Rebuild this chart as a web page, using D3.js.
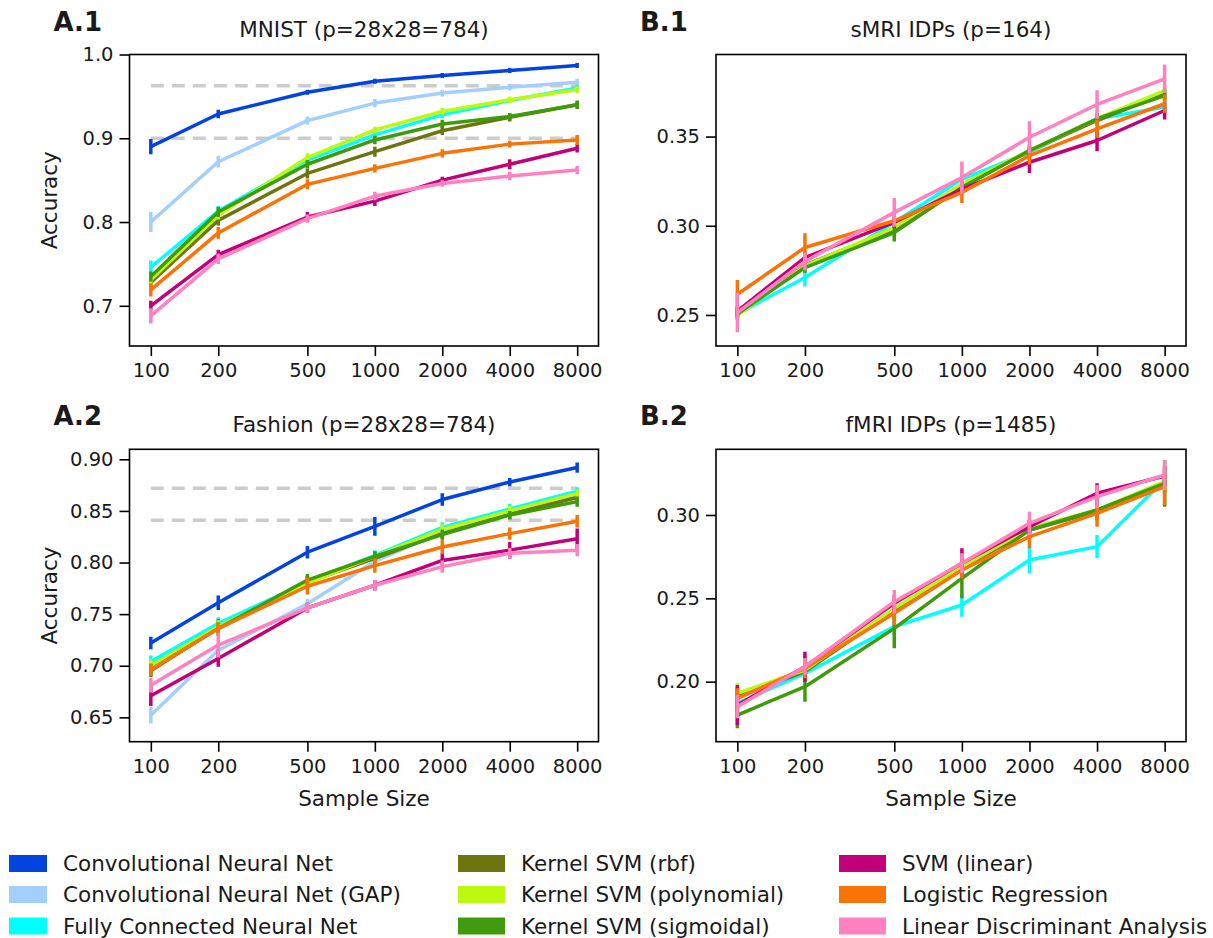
<!DOCTYPE html>
<html><head><meta charset="utf-8">
<script src="https://cdn.jsdelivr.net/npm/d3@7"></script>
<style>
html,body{margin:0;padding:0;background:#fff;}
text{font-family:"DejaVu Sans",sans-serif;fill:#1a1a1a;}
</style></head>
<body><svg id="chart" width="1213" height="938"></svg>
<script>
// ---------- data ----------
const sampleSizes = [100, 200, 500, 1000, 2000, 4000, 8000];
const xTickLabels = ["100", "200", "500", "1000", "2000", "4000", "8000"];
const methods = ["Convolutional Neural Net", "Convolutional Neural Net (GAP)", "Fully Connected Neural Net",
  "Kernel SVM (rbf)", "Kernel SVM (polynomial)", "Kernel SVM (sigmoidal)",
  "SVM (linear)", "Logistic Regression", "Linear Discriminant Analysis"];
const methodColors = ["#0343df", "#a2cffe", "#00ffff", "#6e750e", "#bbf90f", "#3f9b0b", "#c20078", "#f97306", "#ff81c0"];

// MNIST (rows in method order)
const mnistMeans = [
  [0.890, 0.929, 0.955, 0.968, 0.975, 0.981, 0.987],
  [0.800, 0.872, 0.921, 0.942, 0.954, 0.961, 0.967],
  [0.746, 0.813, 0.874, 0.904, 0.928, 0.945, 0.960],
  [0.728, 0.802, 0.858, 0.884, 0.909, 0.925, 0.940],
  [0.731, 0.808, 0.877, 0.910, 0.932, 0.946, 0.958],
  [0.735, 0.812, 0.869, 0.898, 0.917, 0.926, 0.940],
  [0.700, 0.761, 0.806, 0.825, 0.850, 0.869, 0.888],
  [0.719, 0.787, 0.845, 0.864, 0.882, 0.893, 0.898],
  [0.688, 0.756, 0.804, 0.831, 0.846, 0.855, 0.862]];
const mnistErr = [
  [0.009, 0.005, 0.003, 0.003, 0.003, 0.003, 0.003],
  [0.012, 0.007, 0.005, 0.005, 0.004, 0.004, 0.004],
  [0.008, 0.006, 0.005, 0.004, 0.004, 0.003, 0.004],
  [0.006, 0.006, 0.006, 0.006, 0.005, 0.005, 0.005],
  [0.006, 0.005, 0.005, 0.004, 0.004, 0.004, 0.004],
  [0.006, 0.006, 0.005, 0.005, 0.005, 0.004, 0.004],
  [0.006, 0.006, 0.006, 0.006, 0.004, 0.006, 0.005],
  [0.008, 0.007, 0.006, 0.005, 0.005, 0.004, 0.006],
  [0.009, 0.006, 0.005, 0.005, 0.004, 0.005, 0.005]];
const mnistRefLines = [0.9626, 0.900];

// Fashion
const fashionMeans = [
  [0.722, 0.761, 0.810, 0.835, 0.861, 0.878, 0.892],
  [0.652, 0.715, 0.760, 0.801, 0.830, 0.850, 0.866],
  [0.704, 0.741, 0.781, 0.807, 0.834, 0.852, 0.869],
  [0.695, 0.737, 0.781, 0.804, 0.828, 0.847, 0.863],
  [0.700, 0.738, 0.780, 0.806, 0.832, 0.850, 0.867],
  [0.696, 0.736, 0.783, 0.806, 0.827, 0.846, 0.859],
  [0.671, 0.707, 0.756, 0.778, 0.802, 0.812, 0.823],
  [0.696, 0.736, 0.777, 0.797, 0.815, 0.828, 0.840],
  [0.681, 0.720, 0.756, 0.778, 0.796, 0.809, 0.812]];
const fashionErr = [
  [0.006, 0.007, 0.006, 0.009, 0.006, 0.004, 0.005],
  [0.008, 0.006, 0.005, 0.005, 0.005, 0.005, 0.004],
  [0.006, 0.006, 0.005, 0.005, 0.005, 0.005, 0.004],
  [0.006, 0.008, 0.006, 0.007, 0.005, 0.005, 0.005],
  [0.006, 0.006, 0.005, 0.005, 0.005, 0.005, 0.004],
  [0.006, 0.006, 0.006, 0.005, 0.005, 0.004, 0.005],
  [0.010, 0.008, 0.005, 0.005, 0.007, 0.008, 0.010],
  [0.006, 0.006, 0.008, 0.007, 0.007, 0.006, 0.006],
  [0.007, 0.012, 0.005, 0.005, 0.006, 0.005, 0.006]];
const fashionRefLines = [0.872, 0.841];

// sMRI IDPs (no CNN rows: null)
const smriMeans = [
  null, null,
  [0.2506, 0.2710, 0.3020, 0.3262, 0.3412, 0.3600, 0.3665],
  [0.2510, 0.2780, 0.2980, 0.3220, 0.3420, 0.3590, 0.3740],
  [0.2497, 0.2775, 0.2990, 0.3234, 0.3420, 0.3600, 0.3758],
  [0.2506, 0.2766, 0.2962, 0.3215, 0.3421, 0.3600, 0.3730],
  [0.2522, 0.2822, 0.3019, 0.3206, 0.3356, 0.3478, 0.3646],
  [0.2616, 0.2878, 0.3028, 0.3187, 0.3393, 0.3543, 0.3684],
  [0.2513, 0.2800, 0.3075, 0.3270, 0.3496, 0.3680, 0.3824]];
const smriErr = [
  null, null,
  [0.003, 0.005, 0.003, 0.003, 0.003, 0.003, 0.003],
  [0.003, 0.003, 0.003, 0.003, 0.003, 0.003, 0.003],
  [0.003, 0.003, 0.003, 0.003, 0.003, 0.003, 0.003],
  [0.003, 0.003, 0.005, 0.003, 0.003, 0.003, 0.003],
  [0.003, 0.003, 0.003, 0.003, 0.006, 0.006, 0.005],
  [0.008, 0.008, 0.003, 0.006, 0.005, 0.005, 0.005],
  [0.011, 0.005, 0.008, 0.009, 0.009, 0.008, 0.008]];

// fMRI IDPs
const fmriMeans = [
  null, null,
  [0.187, 0.205, 0.233, 0.246, 0.273, 0.281, 0.321],
  [0.191, 0.206, 0.243, 0.268, 0.291, 0.302, 0.318],
  [0.193, 0.207, 0.244, 0.269, 0.292, 0.303, 0.320],
  [0.180, 0.197, 0.232, 0.262, 0.291, 0.303, 0.319],
  [0.186, 0.209, 0.247, 0.271, 0.293, 0.313, 0.3234],
  [0.190, 0.208, 0.241, 0.267, 0.287, 0.301, 0.317],
  [0.185, 0.209, 0.248, 0.271, 0.295, 0.311, 0.324]];
const fmriErr = [
  null, null,
  [0.005, 0.004, 0.006, 0.007, 0.008, 0.007, 0.005],
  [0.006, 0.005, 0.005, 0.005, 0.005, 0.005, 0.005],
  [0.006, 0.005, 0.005, 0.005, 0.005, 0.005, 0.005],
  [0.008, 0.009, 0.012, 0.012, 0.005, 0.005, 0.014],
  [0.012, 0.009, 0.005, 0.009, 0.004, 0.006, 0.006],
  [0.006, 0.006, 0.007, 0.005, 0.007, 0.008, 0.011],
  [0.007, 0.005, 0.007, 0.006, 0.007, 0.007, 0.009]];

const panelTitles = ["MNIST (p=28x28=784)", "sMRI IDPs (p=164)", "Fashion (p=28x28=784)", "fMRI IDPs (p=1485)"];
const panelLabels = ["A.1", "B.1", "A.2", "B.2"];
const yTicksMnist = [0.7, 0.8, 0.9, 1.0];
const yTicksSmri = [0.25, 0.30, 0.35];
const yTicksFashion = [0.65, 0.70, 0.75, 0.80, 0.85, 0.90];
const yTicksFmri = [0.20, 0.25, 0.30];

// ---------- layout ----------
const svg = d3.select("#chart");
const lp = Math.log10(100), hp = Math.log10(8000), pad = (hp - lp) * 0.05;
const xDomain = [Math.pow(10, lp - pad), Math.pow(10, hp + pad)];

const panels = [
  {means: mnistMeans, err: mnistErr, ref: mnistRefLines, yDom: [0.652, 1.0], ticks: yTicksMnist, fmt: d3.format(".1f"),
   left: 129.5, width: 469, top: 54.5, bottom: 346, ylabel: true, xlabel: false},
  {means: smriMeans, err: smriErr, ref: [], yDom: [0.2326, 0.396], ticks: yTicksSmri, fmt: d3.format(".2f"),
   left: 716, width: 470, top: 54.5, bottom: 346, ylabel: false, xlabel: false},
  {means: fashionMeans, err: fashionErr, ref: fashionRefLines, yDom: [0.6264, 0.9097], ticks: yTicksFashion, fmt: d3.format(".2f"),
   left: 129.5, width: 469, top: 449.3, bottom: 741.7, ylabel: true, xlabel: true},
  {means: fmriMeans, err: fmriErr, ref: [], yDom: [0.164, 0.3394], ticks: yTicksFmri, fmt: d3.format(".2f"),
   left: 716, width: 470, top: 449.3, bottom: 741.7, ylabel: false, xlabel: true}
];

panels.forEach((p, pi) => {
  const x = d3.scaleLog().domain(xDomain).range([p.left, p.left + p.width]);
  const y = d3.scaleLinear().domain(p.yDom).range([p.bottom, p.top]);
  const g = svg.append("g");

  // clip
  const cid = "clip" + pi;
  svg.append("clipPath").attr("id", cid).append("rect")
    .attr("x", p.left).attr("y", p.top).attr("width", p.width).attr("height", p.bottom - p.top);
  const plot = g.append("g").attr("clip-path", `url(#${cid})`);

  // reference dashed lines
  p.ref.forEach(v => {
    plot.append("line")
      .attr("x1", x(sampleSizes[0])).attr("x2", x(sampleSizes[sampleSizes.length - 1]))
      .attr("y1", y(v)).attr("y2", y(v))
      .attr("stroke", "#cccccc").attr("stroke-width", 3.5).attr("stroke-dasharray", "13,8");
  });

  const line = d3.line().x((d, i) => x(sampleSizes[i])).y(d => y(d));
  p.means.forEach((row, si) => {
    if (!row) return;
    const c = methodColors[si];
    plot.append("path").datum(row).attr("d", line)
      .attr("fill", "none").attr("stroke", c).attr("stroke-width", 3.5).attr("stroke-linejoin", "round");
    plot.selectAll(null).data(row).enter().append("line")
      .attr("x1", (d, i) => x(sampleSizes[i])).attr("x2", (d, i) => x(sampleSizes[i]))
      .attr("y1", (d, i) => y(d - p.err[si][i])).attr("y2", (d, i) => y(d + p.err[si][i]))
      .attr("stroke", c).attr("stroke-width", 3.5);
  });

  // axes
  const xAxis = d3.axisBottom(x).tickValues(sampleSizes).tickFormat((d, i) => xTickLabels[i])
    .tickSize(10).tickPadding(7);
  const gx = g.append("g").attr("transform", `translate(0,${p.bottom})`).call(xAxis);
  const yAxis = d3.axisLeft(y).tickValues(p.ticks).tickFormat(p.fmt).tickSize(10).tickPadding(6);
  const gy = g.append("g").attr("transform", `translate(${p.left},0)`).call(yAxis);
  [gx, gy].forEach(a => {
    a.select(".domain").remove();
    a.selectAll(".tick line").attr("stroke", "#000").attr("stroke-width", 1.6);
    a.selectAll(".tick text").attr("font-size", 19.5).attr("font-family", "DejaVu Sans").attr("fill", "#1a1a1a");
  });

  // frame
  g.append("rect").attr("x", p.left).attr("y", p.top).attr("width", p.width).attr("height", p.bottom - p.top)
    .attr("fill", "none").attr("stroke", "#000").attr("stroke-width", 1.6);

  // title and panel label
  g.append("text").attr("x", p.left + p.width / 2).attr("y", p.top - 25).attr("dy", "0.35em")
    .attr("text-anchor", "middle").attr("font-size", 21.5).text(panelTitles[pi]);
  g.append("text").attr("x", p.left - 76).attr("y", p.top - 33).attr("dy", "0.35em")
    .attr("font-size", 26).attr("font-weight", "bold").attr("fill", "#000").text(panelLabels[pi]);

  if (p.ylabel) {
    const cy = (p.top + p.bottom) / 2;
    g.append("text").attr("transform", `translate(49,${cy}) rotate(-90)`).attr("dy", "0.35em")
      .attr("text-anchor", "middle").attr("font-size", 21.5).text("Accuracy");
  }
  if (p.xlabel) {
    g.append("text").attr("x", p.left + p.width / 2).attr("y", p.bottom + 57).attr("dy", "0.35em")
      .attr("text-anchor", "middle").attr("font-size", 21.5).text("Sample Size");
  }
});

// ---------- legend ----------
const legCols = [9, 458, 839];
const legRows = [863.5, 894.5, 926];
methods.forEach((m, i) => {
  const col = Math.floor(i / 3), row = i % 3;
  const lx = legCols[col], ly = legRows[row];
  svg.append("rect").attr("x", lx).attr("y", ly - 8.5).attr("width", col === 0 ? 38 : 47).attr("height", 17)
    .attr("fill", methodColors[i]);
  svg.append("text").attr("x", col === 0 ? 63 : lx + 63).attr("y", ly).attr("dy", "0.35em")
    .attr("font-size", 21.5).text(m);
});
</script>
</body></html>
